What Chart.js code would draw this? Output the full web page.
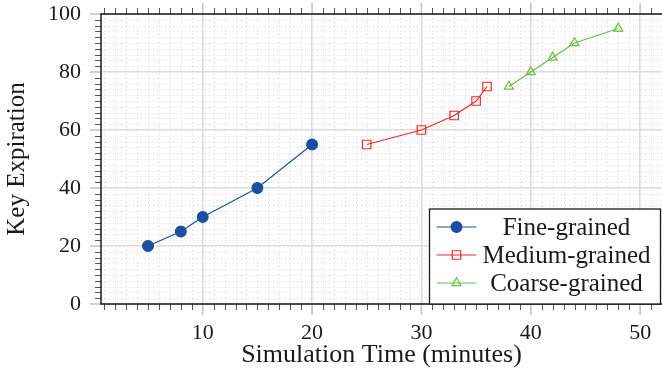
<!DOCTYPE html>
<html><head><meta charset="utf-8">
<script src="https://cdn.jsdelivr.net/npm/chart.js@4/dist/chart.umd.min.js"></script>
<style>html,body{margin:0;padding:0;background:#fff;overflow:hidden}#wrap{width:662px;height:371px;position:relative}</style>
</head><body><div id="wrap"><canvas id="c" width="662" height="371"></canvas></div>
<script>
// ---- data ----
const xTitle = 'Simulation Time (minutes)';
const yTitle = 'Key Expiration';
const seriesNames = ['Fine-grained', 'Medium-grained', 'Coarse-grained'];
const fineX = [5, 8, 10, 15, 20];
const fineY = [20, 25, 30, 40, 55];
const mediumX = [25, 30, 33, 35, 36];
const mediumY = [55, 60, 65, 70, 75];
const coarseX = [38, 40, 42, 44, 48];
const coarseY = [75, 80, 85, 90, 95];
const xRange = [0.7, 52.0];
const yRange = [0, 100];
const xMajorStep = 10, xMinorStep = 1;
const yMajorStep = 20, yMinorStep = 2;

const FONT = "'Liberation Serif', 'Times New Roman', serif";
const TEXT_SIZE = 25;
const TICK_SIZE = 22;
const toPts = (xs, ys) => xs.map((x, i) => ({x: x, y: ys[i]}));

const seriesStyle = [
  {color: '#1c4fa0', pointStyle: 'circle', radius: 5.4, fill: '#1c4fa0'},
  {color: '#f02828', pointStyle: 'rect', radius: 6, fill: 'rgba(0,0,0,0)'},
  {color: '#6abd45', pointStyle: 'triangle', radius: 5.2, fill: 'rgba(0,0,0,0)'}
];
const seriesData = [toPts(fineX, fineY), toPts(mediumX, mediumY), toPts(coarseX, coarseY)];

const datasets = seriesNames.map((n, i) => ({
  label: n,
  data: seriesData[i],
  borderColor: seriesStyle[i].color,
  backgroundColor: seriesStyle[i].fill,
  pointStyle: seriesStyle[i].pointStyle,
  pointRadius: seriesStyle[i].radius,
  pointBorderWidth: 1.2,
  pointBorderColor: seriesStyle[i].color,
  pointBackgroundColor: seriesStyle[i].fill,
  borderWidth: 1.2,
  tension: 0,
  fill: false
}));

function isMult(v, s) { return Math.abs(v / s - Math.round(v / s)) < 1e-6; }

const decor = {
  id: 'decor',
  beforeDatasetsDraw(chart) {
    const {ctx, chartArea: a, scales: {x, y}} = chart;
    ctx.save();
    ctx.strokeStyle = '#dadada';
    ctx.lineWidth = 1;
    ctx.setLineDash([1, 3]);
    for (let v = Math.ceil(xRange[0]); v <= xRange[1]; v += xMinorStep) {
      if (isMult(v, xMajorStep)) continue;
      const px = Math.round(x.getPixelForValue(v)) + 0.5;
      ctx.beginPath(); ctx.moveTo(px, a.top); ctx.lineTo(px, a.bottom); ctx.stroke();
    }
    for (let v = yRange[0] + yMinorStep; v < yRange[1]; v += yMinorStep) {
      if (isMult(v, yMajorStep)) continue;
      const py = Math.round(y.getPixelForValue(v)) + 0.5;
      ctx.beginPath(); ctx.moveTo(a.left, py); ctx.lineTo(a.right, py); ctx.stroke();
    }
    ctx.restore();
  },
  afterDraw(chart) {
    const {ctx, chartArea: a, scales: {x, y}} = chart;
    ctx.save();
    // ticks
    for (let v = Math.ceil(xRange[0]); v <= xRange[1]; v += xMinorStep) {
      const px = x.getPixelForValue(v);
      const major = isMult(v, xMajorStep);
      ctx.strokeStyle = major ? '#c4c4c4' : '#555';
      ctx.lineWidth = major ? 1.6 : 1;
      const L = major ? 11 : 6;
      const xx = major ? px : Math.round(px) + 0.5;
      ctx.beginPath(); ctx.moveTo(xx, a.bottom); ctx.lineTo(xx, a.bottom + L); ctx.stroke();
      ctx.beginPath(); ctx.moveTo(xx, a.top); ctx.lineTo(xx, a.top - L); ctx.stroke();
    }
    for (let v = yRange[0]; v <= yRange[1]; v += yMinorStep) {
      const py = y.getPixelForValue(v);
      const major = isMult(v, yMajorStep);
      ctx.strokeStyle = major ? '#c4c4c4' : '#555';
      ctx.lineWidth = major ? 1.6 : 1;
      const L = major ? 11 : 6;
      const yy = major ? py : Math.round(py) + 0.5;
      ctx.beginPath(); ctx.moveTo(a.left, yy); ctx.lineTo(a.left - L, yy); ctx.stroke();
    }
    // frame
    ctx.strokeStyle = '#1a1a1a';
    ctx.lineWidth = 1.5;
    ctx.beginPath();
    ctx.moveTo(a.right, a.top); ctx.lineTo(a.left, a.top); ctx.lineTo(a.left, a.bottom); ctx.lineTo(a.right, a.bottom);
    ctx.stroke();
    // legend
    const bw = 231, bh = 95;
    const bx = a.right - 1.5 - bw, by = a.bottom - bh;
    ctx.fillStyle = '#fff';
    ctx.fillRect(bx, by, bw, bh);
    ctx.strokeStyle = '#1a1a1a';
    ctx.lineWidth = 1.3;
    ctx.strokeRect(bx, by, bw, bh);
    ctx.font = TEXT_SIZE + 'px ' + FONT;
    ctx.textAlign = 'center';
    ctx.textBaseline = 'middle';
    chart.data.datasets.forEach((ds, i) => {
      const cy = by + 18 + i * 28;
      ctx.strokeStyle = ds.borderColor;
      ctx.lineWidth = 1.2;
      ctx.beginPath(); ctx.moveTo(bx + 7, cy); ctx.lineTo(bx + 47, cy); ctx.stroke();
      ctx.fillStyle = ds.pointBackgroundColor;
      ctx.strokeStyle = ds.pointBorderColor;
      ctx.lineWidth = ds.pointBorderWidth;
      Chart.helpers.drawPoint(ctx, {pointStyle: ds.pointStyle, radius: ds.pointRadius, borderWidth: ds.pointBorderWidth, rotation: 0}, bx + 27, cy);
      ctx.fillStyle = '#1a1a1a';
      ctx.fillText(ds.label, bx + 137, cy + 1);
    });
    ctx.restore();
  }
};

new Chart(document.getElementById('c'), {
  type: 'line',
  data: {datasets: datasets},
  options: {
    responsive: false,
    animation: false,
    devicePixelRatio: 1,
    layout: {autoPadding: false, padding: {top: 14, right: 0, bottom: 0, left: 0}},
    plugins: {legend: {display: false}, tooltip: {enabled: false}},
    scales: {
      x: {
        type: 'linear',
        min: xRange[0], max: xRange[1],
        afterFit: s => { s.height = 67; s.paddingLeft = 0; s.paddingRight = 0; },
        ticks: {stepSize: xMajorStep, includeBounds: false, padding: 16, color: '#1a1a1a', font: {family: FONT, size: TICK_SIZE}, maxRotation: 0},
        grid: {color: '#dcdcdc', lineWidth: 1.6, drawTicks: false},
        border: {display: false},
        title: {display: true, text: xTitle, color: '#1a1a1a', font: {family: FONT, size: 26}, padding: {top: 0, bottom: 0}}
      },
      y: {
        type: 'linear',
        min: yRange[0], max: yRange[1],
        afterFit: s => { s.width = 101; s.paddingTop = 0; s.paddingBottom = 0; },
        ticks: {stepSize: yMajorStep, padding: 20, color: '#1a1a1a', font: {family: FONT, size: TICK_SIZE}},
        grid: {color: '#dcdcdc', lineWidth: 1.6, drawTicks: false},
        border: {display: false},
        title: {display: true, text: yTitle, color: '#1a1a1a', font: {family: FONT, size: TEXT_SIZE}, padding: {top: 2, bottom: 0}}
      }
    }
  },
  plugins: [decor]
});
</script></body></html>
